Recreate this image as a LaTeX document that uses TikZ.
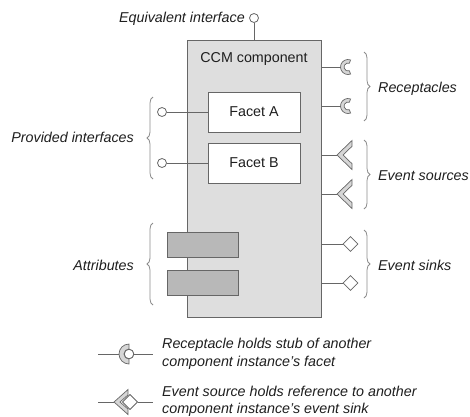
\documentclass[tikz,border=0pt]{standalone}
\usepackage{fontspec}
\setmainfont{Liberation Sans}
\usetikzlibrary{decorations.pathreplacing,shapes.geometric}
\definecolor{linegray}{HTML}{666666}
\definecolor{compfill}{HTML}{DEDEDE}
\definecolor{attrfill}{HTML}{B8B8B8}
\definecolor{symfill}{HTML}{D6D6D6}
\definecolor{bracegray}{HTML}{8C8C8C}
\definecolor{ink}{HTML}{1E1E1E}
\begin{document}
\begin{tikzpicture}[x=1pt,y=-1pt,
  every node/.style={text=ink},
  wire/.style={draw=linegray, line width=0.8pt},
  txt/.style={font=\fontsize{14.3}{16}\selectfont, inner sep=0pt},
  itxt/.style={font=\fontsize{14.3}{16}\selectfont\itshape, inner sep=0pt},
  compbox/.style={wire, fill=compfill, minimum width=134pt, minimum height=277pt, inner sep=0pt},
  facetbox/.style={wire, fill=white, minimum width=92pt, minimum height=40pt, inner sep=0pt, font=\fontsize{14.3}{16}\selectfont},
  attrbox/.style={wire, fill=attrfill, minimum width=71pt, minimum height=25pt, inner sep=0pt},
  iface/.style={circle, wire, fill=white, minimum size=9pt, inner sep=0pt},
  sink/.style={diamond, wire, fill=white, minimum size=15pt, inner sep=0pt},
  symbol/.style={draw=linegray, line width=0.7pt, fill=symfill, line join=miter},
  curly/.style={draw=bracegray, line width=0.8pt, decorate, decoration={brace, amplitude=6pt, aspect=0.5}},
  % receptacle cup, origin at the centre of its arcs, opening to the right
  cup/.pic={
    \path[symbol] (2.565,-7.048) arc[start angle=70, end angle=290, radius=7.5pt]
      -- (1.368,3.759) arc[start angle=290, end angle=70, radius=4pt] -- cycle;
  },
  bigcup/.pic={
    \path[symbol] (0,-10) arc[start angle=90, end angle=270, radius=10pt]
      -- (0,5) arc[start angle=270, end angle=90, radius=5pt] -- cycle;
  },
  % event source chevron, origin at its tip
  chevron/.pic={
    \path[symbol] (0,0) -- (15,-14.5) -- (15,-8.7) -- (6,0) -- (15,8.7) -- (15,14.5) -- cycle;
  },
  smallchevron/.pic={
    \path[symbol] (0,0) -- (14,-12.5) -- (14,-7.1) -- (6,0) -- (14,7.1) -- (14,12.5) -- cycle;
  }
]
\useasboundingbox (0,0) rectangle (470,416);

% component body
\node[compbox] (comp) at (254,178.5) {};
\node[txt, anchor=base] (title) at (254,62) {CCM component};

% equivalent interface
\node[iface] (eq) at (254,18) {};
\draw[wire] (eq.south) -- (comp.north);
\node[itxt, anchor=base east] (eqlabel) at (245,22) {Equivalent interface};

% facets and provided interfaces
\node[facetbox] (facetA) at (254,112) {Facet A};
\node[facetbox] (facetB) at (254,163) {Facet B};
\node[iface] (pA) at (162,112) {};
\node[iface] (pB) at (162,163) {};
\draw[wire] (pA.east) -- (facetA.west);
\draw[wire] (pB.east) -- (facetB.west);
\coordinate (provTop) at (153,97);
\coordinate (provBot) at (153,179);
\draw[curly] (provBot) -- (provTop);
\node[itxt, anchor=base east] (provlabel) at (134,142) {Provided interfaces};

% attributes
\node[attrbox] (attA) at (202.5,244.5) {};
\node[attrbox] (attB) at (202.5,283) {};
\coordinate (attTop) at (153,223);
\coordinate (attBot) at (153,305);
\draw[curly] (attBot) -- (attTop);
\node[itxt, anchor=base east] (attlabel) at (134,270) {Attributes};

% receptacles: stems from the body, cups on their ends
\coordinate (rA) at (340.5,67);
\coordinate (rB) at (340.5,106);
\draw[wire] (comp.east |- rA) -- (rA);
\draw[wire] (comp.east |- rB) -- (rB);
\pic at ([xshift=7.5pt]rA) {cup};
\pic at ([xshift=7.5pt]rB) {cup};
\coordinate (recTop) at (364,52);
\coordinate (recBot) at (364,121);
\draw[curly] (recTop) -- (recBot);
\node[itxt, anchor=base west] (reclabel) at (378,92) {Receptacles};

% event sources
\coordinate (eA) at (337,155);
\coordinate (eB) at (337,194);
\draw[wire] (comp.east |- eA) -- (eA);
\draw[wire] (comp.east |- eB) -- (eB);
\pic at (eA) {chevron};
\pic at (eB) {chevron};
\coordinate (srcTop) at (364,140);
\coordinate (srcBot) at (364,209);
\draw[curly] (srcTop) -- (srcBot);
\node[itxt, anchor=base west] (srclabel) at (378,180) {Event sources};

% event sinks
\node[sink] (kA) at (350.5,244) {};
\node[sink] (kB) at (350.5,283) {};
\draw[wire] (comp.east |- kA) -- (kA.west);
\draw[wire] (comp.east |- kB) -- (kB.west);
\coordinate (snkTop) at (364,230);
\coordinate (snkBot) at (364,298);
\draw[curly] (snkTop) -- (snkBot);
\node[itxt, anchor=base west] (snklabel) at (378,270) {Event sinks};

% legend: receptacle holding a facet stub
\coordinate (l1a) at (98,354);
\coordinate (l1b) at (119,354);
\node[iface, minimum size=9.5pt] (l1c) at (129,354) {};
\coordinate (l1d) at (153,354);
\draw[wire] (l1a) -- (l1b);
\draw[wire] (l1c.east) -- (l1d);
\pic at ([xshift=10pt]l1b) {bigcup};
\node[iface, minimum size=9.5pt] at (l1c) {};
\node[itxt, anchor=base west] (l1t1) at (162,348) {Receptacle holds stub of another};
\node[itxt, anchor=base west] (l1t2) at (162,366) {component instance's facet};

% legend: event source holding a sink reference
\coordinate (l2a) at (98,402);
\coordinate (l2b) at (114,402);
\node[sink, minimum size=15pt] (l2c) at (130,402) {};
\coordinate (l2d) at (153,402);
\draw[wire] (l2a) -- (l2b);
\draw[wire] (l2c.east) -- (l2d);
\pic at (l2b) {smallchevron};
\node[sink, minimum size=15pt] at (l2c) {};
\node[itxt, anchor=base west] (l2t1) at (162,396) {Event source holds reference to another};
\node[itxt, anchor=base west] (l2t2) at (162,413) {component instance's event sink};
\end{tikzpicture}
\end{document}
